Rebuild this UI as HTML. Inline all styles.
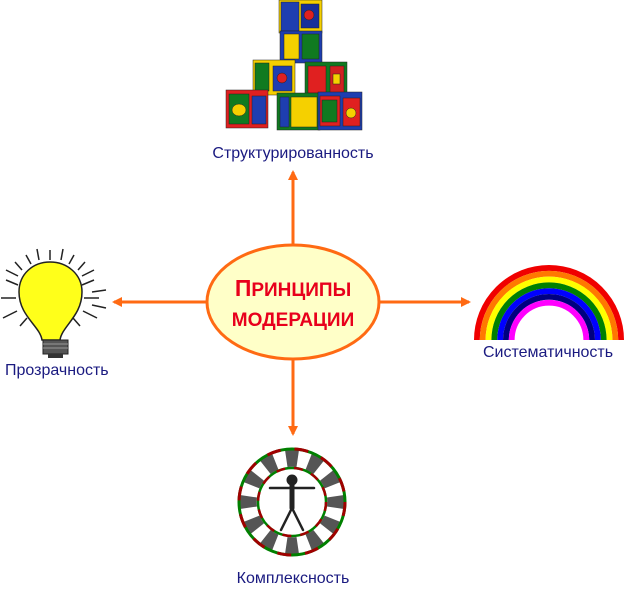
<!DOCTYPE html>
<html><head><meta charset="utf-8"><style>
html,body{margin:0;padding:0;background:#fff;}
svg{display:block;}
text{font-family:"Liberation Sans",sans-serif;}
</style></head><body>
<svg width="625" height="590" viewBox="0 0 625 590" xmlns="http://www.w3.org/2000/svg">
<defs>
<marker id="ah" markerWidth="10" markerHeight="10" refX="8" refY="5" orient="auto" markerUnits="userSpaceOnUse">
<path d="M0,0 L10,5 L0,10 Z" fill="#ff6a13"/></marker>
<path id="seg" d="M-7,-52 A52,52 0 0 1 7,-52 L4.5,-35 A35,35 0 0 0 -4.5,-35 Z" fill="#555"/>
</defs>
<g stroke="#ff6a13" stroke-width="3" fill="none">
<line x1="293" y1="245" x2="293" y2="172" marker-end="url(#ah)"/>
<line x1="206" y1="302" x2="114" y2="302" marker-end="url(#ah)"/>
<line x1="380" y1="302" x2="469" y2="302" marker-end="url(#ah)"/>
<line x1="293" y1="360" x2="293" y2="434" marker-end="url(#ah)"/>
</g>
<ellipse cx="293" cy="302" rx="86" ry="57" fill="#ffffc8" stroke="#ff6a13" stroke-width="3"/>
<text x="293" y="296" text-anchor="middle" font-size="23" font-weight="bold" fill="#e8001c">П<tspan font-size="19">РИНЦИПЫ</tspan></text>
<text x="293" y="326" text-anchor="middle" font-size="19" font-weight="bold" fill="#e8001c">МОДЕРАЦИИ</text>

<g stroke="#222" stroke-width="0.5">
<g><rect x="279" y="0" width="43" height="33" fill="#f5d000"/><rect x="281" y="2" width="18" height="29" fill="#1e3eb0"/><rect x="301" y="4" width="18" height="24" fill="#18309a"/><circle cx="309" cy="15" r="5" fill="#e02020"/></g>
<g><rect x="280" y="31" width="42" height="32" fill="#1e3eb0"/><rect x="284" y="34" width="15" height="25" fill="#f5d000"/><rect x="302" y="34" width="17" height="25" fill="#107a20"/></g>
<g><rect x="253" y="60" width="42" height="35" fill="#f5d000"/><rect x="255" y="63" width="14" height="28" fill="#107a20"/><rect x="273" y="66" width="19" height="25" fill="#1e3eb0"/><circle cx="282" cy="78" r="5" fill="#e02020"/></g>
<g><rect x="305" y="62" width="42" height="35" fill="#107a20"/><rect x="308" y="66" width="18" height="27" fill="#e02020"/><rect x="330" y="66" width="14" height="27" fill="#d02020"/><rect x="333" y="74" width="7" height="10" fill="#f5d000"/></g>
<g><rect x="226" y="90" width="42" height="38" fill="#e02020"/><rect x="229" y="94" width="20" height="30" fill="#107a20"/><rect x="252" y="96" width="14" height="28" fill="#1e3eb0"/><ellipse cx="239" cy="110" rx="7" ry="6" fill="#f5d000"/></g>
<g><rect x="277" y="93" width="43" height="37" fill="#107a20"/><rect x="280" y="97" width="9" height="30" fill="#1e3eb0"/><rect x="291" y="97" width="26" height="30" fill="#f5d000"/></g>
<g><rect x="318" y="92" width="44" height="38" fill="#1e3eb0"/><rect x="320" y="96" width="20" height="30" fill="#e02020"/><rect x="322" y="100" width="15" height="22" fill="#107a20"/><rect x="343" y="98" width="17" height="28" fill="#e02020"/><circle cx="351" cy="113" r="5" fill="#f5d000"/></g>
</g>
<text x="293" y="158" text-anchor="middle" font-size="16" fill="#1a1a80">Структурированность</text>

<g stroke="#222" stroke-width="1.5">
<line x1="50" y1="250" x2="50" y2="260"/><line x1="63" y1="249" x2="61" y2="260"/><line x1="37" y1="249" x2="39" y2="260"/>
<line x1="26" y1="255" x2="31" y2="264"/><line x1="74" y1="255" x2="69" y2="264"/>
<line x1="85" y1="262" x2="78" y2="270"/><line x1="15" y1="262" x2="22" y2="270"/>
<line x1="6" y1="280" x2="18" y2="285"/><line x1="94" y1="280" x2="82" y2="285"/>
<line x1="1" y1="298" x2="16" y2="298"/><line x1="99" y1="298" x2="84" y2="298"/>
<line x1="3" y1="318" x2="17" y2="311"/><line x1="97" y1="318" x2="83" y2="311"/>
<line x1="94" y1="270" x2="82" y2="276"/><line x1="6" y1="270" x2="18" y2="276"/>
<line x1="20" y1="326" x2="27" y2="318"/><line x1="80" y1="326" x2="73" y2="318"/>
<line x1="106" y1="290" x2="92" y2="292"/><line x1="106" y1="308" x2="92" y2="305"/>
</g>
<path d="M42,340 C40,326 19,316 19,292 C19,274 33,262 50,262 C67,262 82,274 82,292 C82,316 62,326 60,340 Z" fill="#ffff1a" stroke="#222" stroke-width="1.5"/>
<rect x="43" y="340" width="25" height="14" fill="#555" stroke="#222"/>
<line x1="43" y1="344" x2="68" y2="344" stroke="#999"/><line x1="43" y1="348" x2="68" y2="348" stroke="#999"/>
<rect x="48" y="354" width="15" height="4" fill="#333"/>
<text x="5" y="375" font-size="16" fill="#1a1a80">Прозрачность</text>

<g fill="none" stroke-width="5.8">
<path d="M476.9,340 A72.1,72.1 0 0 1 621.1,340" stroke="#f00000"/>
<path d="M482.7,340 A66.3,66.3 0 0 1 615.3,340" stroke="#ff7800"/>
<path d="M488.5,340 A60.5,60.5 0 0 1 609.5,340" stroke="#ffff00"/>
<path d="M494.3,340 A54.7,54.7 0 0 1 603.7,340" stroke="#008000"/>
<path d="M500.1,340 A48.9,48.9 0 0 1 597.9,340" stroke="#0000ff"/>
<path d="M505.9,340 A43.1,43.1 0 0 1 592.1,340" stroke="#000080"/>
<path d="M511.7,340 A37.3,37.3 0 0 1 586.3,340" stroke="#ff00ff"/>
</g>
<text x="483" y="357" font-size="16" fill="#1a1a80">Систематичность</text>

<g transform="translate(292,502)">
<circle r="54" fill="#fff"/>
<use href="#seg"/><use href="#seg" transform="rotate(30)"/><use href="#seg" transform="rotate(60)"/><use href="#seg" transform="rotate(90)"/>
<use href="#seg" transform="rotate(120)"/><use href="#seg" transform="rotate(150)"/><use href="#seg" transform="rotate(180)"/><use href="#seg" transform="rotate(210)"/>
<use href="#seg" transform="rotate(240)"/><use href="#seg" transform="rotate(270)"/><use href="#seg" transform="rotate(300)"/><use href="#seg" transform="rotate(330)"/>
<circle r="53" fill="none" stroke="#008000" stroke-width="3"/>
<circle r="53" fill="none" stroke="#a00000" stroke-width="3" stroke-dasharray="14 14"/>
<circle r="34" fill="#fff" stroke="#008000" stroke-width="2.5"/>
<circle r="34" fill="none" stroke="#a00000" stroke-width="2.5" stroke-dasharray="9 9"/>
<g stroke="#222" stroke-width="3" stroke-linecap="round" fill="none">
<circle cx="0" cy="-22" r="4" fill="#222"/>
<line x1="0" y1="-17" x2="0" y2="6" stroke-width="5"/>
<line x1="-22" y1="-14" x2="22" y2="-14" stroke-width="2.5"/>
<line x1="0" y1="6" x2="-11" y2="28" stroke-width="2.5"/>
<line x1="0" y1="6" x2="11" y2="28" stroke-width="2.5"/>
</g>
</g>
<text x="293" y="583" text-anchor="middle" font-size="16" fill="#1a1a80">Комплексность</text>
</svg>
</body></html>
